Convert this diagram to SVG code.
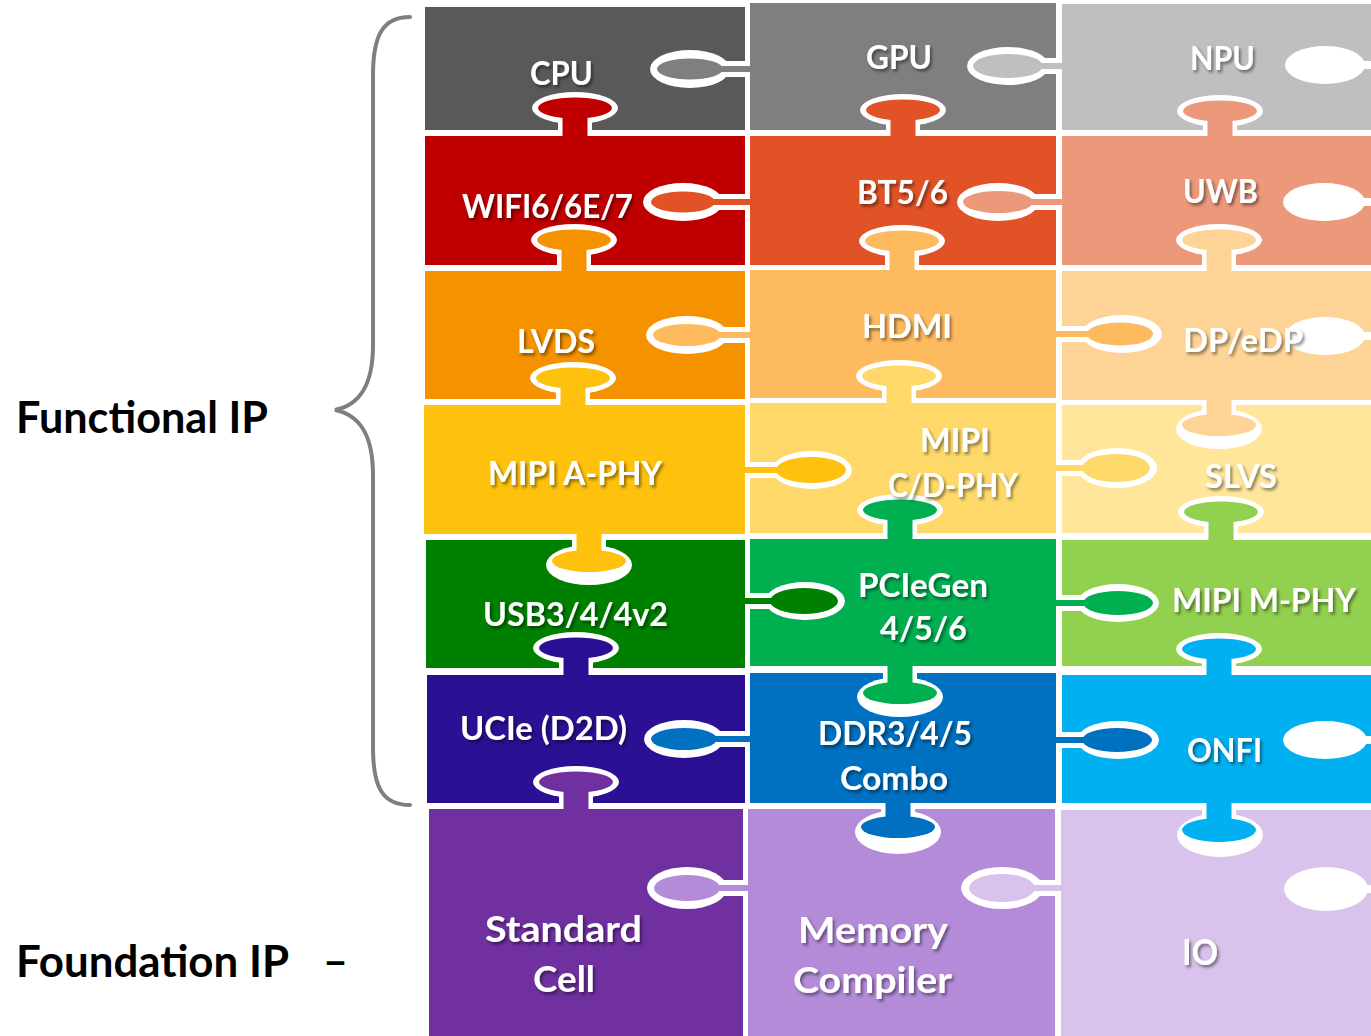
<svg xmlns="http://www.w3.org/2000/svg" width="1371" height="1036" viewBox="0 0 1371 1036">
<defs>
<filter id="sh" x="-10%" y="-30%" width="130%" height="160%">
<feDropShadow dx="2" dy="2.5" stdDeviation="1.5" flood-color="#000" flood-opacity="0.45"/>
</filter>
<style>
.w{fill:#fff}
.lbl{font-family:Lato,"Open Sans","Liberation Sans",sans-serif;font-weight:700;font-size:32px;fill:#fff;filter:url(#sh)}
.big{font-size:37px}
.ttl{font-family:Lato,"Open Sans","Liberation Sans",sans-serif;font-weight:700;font-size:43px;fill:#000}
.brace{fill:none;stroke:#7f7f7f;stroke-width:4;stroke-linecap:round}
</style>
</defs>
<rect width="1371" height="1036" fill="#fff"/>

<g id="labels-side">
<text class="ttl" x="16" y="433" textLength="252" lengthAdjust="spacingAndGlyphs">Functional IP</text>
<text class="ttl" x="16" y="977" textLength="273" lengthAdjust="spacingAndGlyphs">Foundation IP</text>
<text class="ttl" x="323" y="976" textLength="25" lengthAdjust="spacingAndGlyphs">–</text>
<path class="brace" d="M410,17 C383,17 373,35 373,75 L373,345 C373,385 360,405 335,410 C360,415 373,435 373,475 L373,748 C373,788 383,805 410,805"/>
</g>

<g id="nodes">
<g id="cpu"><rect x="425" y="7" width="320" height="123" fill="#595959"/><text class="lbl" x="530" y="85" textLength="63" lengthAdjust="spacingAndGlyphs">CPU</text></g>
<g id="gpu"><rect x="750" y="3" width="306" height="127" fill="#7f7f7f"/><text class="lbl" x="866" y="69" textLength="66" lengthAdjust="spacingAndGlyphs">GPU</text></g>
<g id="npu"><rect x="1062" y="4" width="309" height="126" fill="#bfbfbf"/><text class="lbl" x="1190" y="70" textLength="65" lengthAdjust="spacingAndGlyphs">NPU</text></g>

<g id="wifi"><rect x="425" y="136" width="320" height="129" fill="#c00000"/><text class="lbl" x="462" y="218" textLength="171" lengthAdjust="spacingAndGlyphs">WIFI6/6E/7</text></g>
<g id="bt"><rect x="750" y="136" width="306" height="129" fill="#e15327"/><text class="lbl" x="857" y="204" textLength="91" lengthAdjust="spacingAndGlyphs">BT5/6</text></g>
<g id="uwb"><rect x="1062" y="136" width="309" height="129" fill="#ec987b"/><text class="lbl" x="1183" y="203" textLength="75" lengthAdjust="spacingAndGlyphs">UWB</text></g>

<g id="lvds"><rect x="425" y="271" width="320" height="128" fill="#f59200"/><text class="lbl" x="517" y="353" textLength="78" lengthAdjust="spacingAndGlyphs">LVDS</text></g>
<g id="hdmi"><rect x="750" y="270" width="306" height="128" fill="#feba5f"/><text class="lbl" x="862" y="338" textLength="90" lengthAdjust="spacingAndGlyphs">HDMI</text></g>
<g id="dp"><rect x="1062" y="271" width="309" height="129" fill="#fed496"/></g>

<g id="mipi-a"><rect x="424" y="405" width="321" height="129" fill="#fec10d"/><text class="lbl" x="488" y="485" textLength="174" lengthAdjust="spacingAndGlyphs">MIPI A-PHY</text></g>
<g id="mipi-cd"><rect x="750" y="403" width="306" height="130" fill="#fed96a"/></g>
<g id="slvs"><rect x="1062" y="405" width="309" height="128" fill="#ffe69b"/><text class="lbl" x="1205" y="488" textLength="72" lengthAdjust="spacingAndGlyphs">SLVS</text></g>

<g id="usb"><rect x="426" y="540" width="319" height="128" fill="#008000"/></g>
<g id="pcie"><rect x="750" y="539" width="306" height="127" fill="#00b050"/><text class="lbl" x="858" y="597" textLength="130" lengthAdjust="spacingAndGlyphs">PCIeGen</text><text class="lbl" x="880" y="640" textLength="87" lengthAdjust="spacingAndGlyphs">4/5/6</text></g>
<g id="mipi-m"><rect x="1062" y="540" width="309" height="126" fill="#92d050"/><text class="lbl" x="1172" y="612" textLength="184" lengthAdjust="spacingAndGlyphs">MIPI M-PHY</text></g>

<g id="ucie"><rect x="427" y="675" width="318" height="128" fill="#2b1094"/><text class="lbl" x="460" y="740" textLength="167" lengthAdjust="spacingAndGlyphs">UCIe (D2D)</text></g>
<g id="ddr"><rect x="750" y="673" width="306" height="130" fill="#0070c0"/><text class="lbl" x="818" y="745" textLength="154" lengthAdjust="spacingAndGlyphs">DDR3/4/5</text><text class="lbl" x="840" y="790" textLength="108" lengthAdjust="spacingAndGlyphs">Combo</text></g>
<g id="onfi"><rect x="1062" y="675" width="309" height="128" fill="#00b0f0"/><text class="lbl" x="1187" y="762" textLength="75" lengthAdjust="spacingAndGlyphs">ONFI</text></g>

<g id="standard-cell"><rect x="429" y="809" width="314" height="227" fill="#7030a0"/><text class="lbl big" x="485" y="942" textLength="157" lengthAdjust="spacingAndGlyphs">Standard</text><text class="lbl big" x="533" y="992" textLength="62" lengthAdjust="spacingAndGlyphs">Cell</text></g>
<g id="memory-compiler"><rect x="748" y="809" width="307" height="227" fill="#b48bd9"/><text class="lbl big" x="798" y="943" textLength="150" lengthAdjust="spacingAndGlyphs">Memory</text><text class="lbl big" x="793" y="993" textLength="159" lengthAdjust="spacingAndGlyphs">Compiler</text></g>
<g id="io"><rect x="1061" y="810" width="310" height="226" fill="#d9c2eb"/><text class="lbl big" x="1182" y="965" textLength="36" lengthAdjust="spacingAndGlyphs">IO</text></g>
</g>

<g id="connectors">
<!-- vertical, pointing up -->
<g><ellipse class="w" cx="575" cy="108" rx="43" ry="16"/><rect class="w" x="558" y="108" width="34" height="22"/><ellipse cx="575" cy="108" rx="37" ry="10.5" fill="#c00000"/><rect x="562.5" y="108" width="25" height="31" fill="#c00000"/></g>
<g><ellipse class="w" cx="574" cy="240" rx="43" ry="16"/><rect class="w" x="557" y="240" width="34" height="25"/><ellipse cx="574" cy="240" rx="37" ry="10.5" fill="#f59200"/><rect x="561.5" y="240" width="25" height="34" fill="#f59200"/></g>
<g><ellipse class="w" cx="573" cy="378" rx="43" ry="16"/><rect class="w" x="556" y="378" width="34" height="21"/><ellipse cx="573" cy="378" rx="37" ry="10.5" fill="#fec10d"/><rect x="560.5" y="378" width="25" height="30" fill="#fec10d"/></g>
<g><ellipse class="w" cx="576" cy="648" rx="43" ry="16"/><rect class="w" x="559" y="648" width="34" height="20"/><ellipse cx="576" cy="648" rx="37" ry="10.5" fill="#2b1094"/><rect x="563.5" y="648" width="25" height="30" fill="#2b1094"/></g>
<g><ellipse class="w" cx="576" cy="782" rx="43" ry="16"/><rect class="w" x="559" y="782" width="34" height="21"/><ellipse cx="576" cy="782" rx="37" ry="10.5" fill="#7030a0"/><rect x="563.5" y="782" width="25" height="30" fill="#7030a0"/></g>
<g><ellipse class="w" cx="903" cy="110" rx="43" ry="16"/><rect class="w" x="886" y="110" width="34" height="20"/><ellipse cx="903" cy="110" rx="37" ry="10.5" fill="#e15327"/><rect x="890.5" y="110" width="25" height="29" fill="#e15327"/></g>
<g><ellipse class="w" cx="902" cy="241" rx="43" ry="16"/><rect class="w" x="885" y="241" width="34" height="24"/><ellipse cx="902" cy="241" rx="37" ry="10.5" fill="#feba5f"/><rect x="889.5" y="241" width="25" height="32" fill="#feba5f"/></g>
<g><ellipse class="w" cx="899" cy="376" rx="43" ry="16"/><rect class="w" x="882" y="376" width="34" height="22"/><ellipse cx="899" cy="376" rx="37" ry="10.5" fill="#fed96a"/><rect x="886.5" y="376" width="25" height="30" fill="#fed96a"/></g>
<g><ellipse class="w" cx="900" cy="510" rx="43" ry="16"/><rect class="w" x="883" y="510" width="34" height="23"/><ellipse cx="900" cy="510" rx="37" ry="10.5" fill="#00b050"/><rect x="887.5" y="510" width="25" height="32" fill="#00b050"/></g>
<g><ellipse class="w" cx="1220" cy="111" rx="43" ry="16"/><rect class="w" x="1203" y="111" width="34" height="19"/><ellipse cx="1220" cy="111" rx="37" ry="10.5" fill="#ec987b"/><rect x="1207.5" y="111" width="25" height="28" fill="#ec987b"/></g>
<g><ellipse class="w" cx="1219" cy="240" rx="43" ry="16"/><rect class="w" x="1202" y="240" width="34" height="25"/><ellipse cx="1219" cy="240" rx="37" ry="10.5" fill="#fed496"/><rect x="1206.5" y="240" width="25" height="34" fill="#fed496"/></g>
<g><ellipse class="w" cx="1221" cy="512" rx="43" ry="16"/><rect class="w" x="1204" y="512" width="34" height="21"/><ellipse cx="1221" cy="512" rx="37" ry="10.5" fill="#92d050"/><rect x="1208.5" y="512" width="25" height="31" fill="#92d050"/></g>
<g><ellipse class="w" cx="1219" cy="649" rx="43" ry="16"/><rect class="w" x="1202" y="649" width="34" height="17"/><ellipse cx="1219" cy="649" rx="37" ry="10.5" fill="#00b0f0"/><rect x="1206.5" y="649" width="25" height="29" fill="#00b0f0"/></g>
<!-- vertical, pointing down -->
<g><ellipse class="w" cx="589" cy="565" rx="43" ry="20"/><rect class="w" x="572" y="540" width="34" height="21"/><ellipse cx="589" cy="561" rx="37" ry="11" fill="#fec10d"/><rect x="576.5" y="531" width="25" height="30" fill="#fec10d"/></g>
<g><ellipse class="w" cx="900" cy="697" rx="43" ry="20"/><rect class="w" x="883" y="673" width="34" height="20"/><ellipse cx="900" cy="693" rx="37" ry="11" fill="#00b050"/><rect x="887.5" y="663" width="25" height="30" fill="#00b050"/></g>
<g><ellipse class="w" cx="898" cy="832" rx="43" ry="22"/><rect class="w" x="881" y="809" width="34" height="18"/><ellipse cx="898" cy="827" rx="37" ry="11" fill="#0070c0"/><rect x="885.5" y="800" width="25" height="27" fill="#0070c0"/></g>
<g><ellipse class="w" cx="1219" cy="429" rx="43" ry="20"/><rect class="w" x="1202" y="405" width="34" height="20"/><ellipse cx="1219" cy="425" rx="37" ry="11" fill="#fed496"/><rect x="1206.5" y="397" width="25" height="28" fill="#fed496"/></g>
<g><ellipse class="w" cx="1220" cy="835" rx="43" ry="22"/><rect class="w" x="1202" y="810" width="34" height="20"/><ellipse cx="1219" cy="830" rx="37" ry="12" fill="#00b0f0"/><rect x="1206.5" y="800" width="25" height="30" fill="#00b0f0"/></g>
<!-- horizontal, pointing left (owner on right) -->
<g><ellipse class="w" cx="690" cy="69" rx="40" ry="19"/><rect class="w" x="690" y="61" width="55" height="16"/><ellipse cx="690" cy="69" rx="33" ry="10.5" fill="#7f7f7f"/><rect x="690" y="66" width="63" height="6" fill="#7f7f7f"/></g>
<g><ellipse class="w" cx="1008" cy="66" rx="41" ry="19"/><rect class="w" x="1008" y="58" width="48" height="16"/><ellipse cx="1008" cy="66" rx="35" ry="12" fill="#bfbfbf"/><rect x="1008" y="63" width="57" height="6" fill="#bfbfbf"/></g>
<g><ellipse class="w" cx="683" cy="202" rx="40" ry="19"/><rect class="w" x="683" y="194" width="62" height="16"/><ellipse cx="683" cy="202" rx="32" ry="10.5" fill="#e15327"/><rect x="683" y="199" width="70" height="6" fill="#e15327"/></g>
<g><ellipse class="w" cx="998" cy="202" rx="41" ry="19"/><rect class="w" x="998" y="194" width="58" height="16"/><ellipse cx="998" cy="202" rx="35" ry="11" fill="#ec987b"/><rect x="998" y="199" width="67" height="6" fill="#ec987b"/></g>
<g><ellipse class="w" cx="687" cy="335" rx="41" ry="19"/><rect class="w" x="687" y="327" width="58" height="16"/><ellipse cx="687" cy="335" rx="34" ry="11" fill="#feba5f"/><rect x="687" y="332" width="66" height="6" fill="#feba5f"/></g>
<g><ellipse class="w" cx="684" cy="739" rx="40" ry="19"/><rect class="w" x="684" y="731" width="61" height="16"/><ellipse cx="684" cy="739" rx="33" ry="11" fill="#0070c0"/><rect x="684" y="736" width="69" height="6" fill="#0070c0"/></g>
<g><ellipse class="w" cx="687" cy="888" rx="40" ry="21"/><rect class="w" x="687" y="880" width="56" height="16"/><ellipse cx="687" cy="888" rx="33" ry="13" fill="#b48bd9"/><rect x="687" y="885" width="64" height="6" fill="#b48bd9"/></g>
<g><ellipse class="w" cx="1002" cy="888" rx="41" ry="21"/><rect class="w" x="1002" y="880" width="53" height="16"/><ellipse cx="1002" cy="888" rx="33" ry="14" fill="#d9c2eb"/><rect x="1002" y="885" width="62" height="6" fill="#d9c2eb"/></g>
<!-- horizontal, pointing right (owner on left) -->
<g><ellipse class="w" cx="1122" cy="334" rx="40" ry="19"/><rect class="w" x="1062" y="326" width="60" height="16"/><ellipse cx="1120" cy="334" rx="33" ry="11.5" fill="#feba5f"/><rect x="1053" y="331" width="67" height="6" fill="#feba5f"/></g>
<g><ellipse class="w" cx="812" cy="470" rx="40" ry="19"/><rect class="w" x="750" y="462" width="62" height="16"/><ellipse cx="811" cy="470" rx="35" ry="13" fill="#fec10d"/><rect x="742" y="467" width="69" height="6" fill="#fec10d"/></g>
<g><ellipse class="w" cx="1117" cy="468" rx="40" ry="20"/><rect class="w" x="1062" y="460" width="55" height="16"/><ellipse cx="1116" cy="468" rx="34" ry="14" fill="#fed96a"/><rect x="1053" y="465" width="63" height="6" fill="#fed96a"/></g>
<g><ellipse class="w" cx="805" cy="601" rx="40" ry="19"/><rect class="w" x="750" y="593" width="55" height="16"/><ellipse cx="804" cy="601" rx="34" ry="13" fill="#008000"/><rect x="742" y="598" width="62" height="6" fill="#008000"/></g>
<g><ellipse class="w" cx="1118" cy="603" rx="41" ry="19"/><rect class="w" x="1062" y="595" width="56" height="16"/><ellipse cx="1118" cy="603" rx="35" ry="12" fill="#00b050"/><rect x="1053" y="600" width="65" height="6" fill="#00b050"/></g>
<g><ellipse class="w" cx="1118" cy="740" rx="41" ry="19"/><rect class="w" x="1062" y="732" width="56" height="16"/><ellipse cx="1117" cy="740" rx="35" ry="12" fill="#0070c0"/><rect x="1053" y="737" width="64" height="6" fill="#0070c0"/></g>
<!-- tabs of pieces beyond the right edge -->
<g class="w"><ellipse cx="1325" cy="65" rx="40" ry="19"/><rect x="1325" y="61" width="46" height="8"/></g>
<g class="w"><ellipse cx="1324" cy="202" rx="41" ry="19"/><rect x="1324" y="198" width="47" height="8"/></g>
<g class="w"><ellipse cx="1325" cy="336" rx="40" ry="19"/><rect x="1325" y="332" width="46" height="8"/></g>
<g class="w"><ellipse cx="1325" cy="740" rx="42" ry="19"/><rect x="1325" y="736" width="46" height="8"/></g>
<g class="w"><ellipse cx="1326" cy="889" rx="42" ry="22"/><rect x="1326" y="885" width="45" height="8"/></g>
</g>

<g id="labels-over-tabs">
<text class="lbl" x="1183" y="352" textLength="120" lengthAdjust="spacingAndGlyphs">DP/eDP</text>
<text class="lbl" x="920" y="452" textLength="70" lengthAdjust="spacingAndGlyphs">MIPI</text>
<text class="lbl" x="888" y="497" textLength="130" lengthAdjust="spacingAndGlyphs">C/D-PHY</text>
<text class="lbl" x="483" y="626" textLength="185" lengthAdjust="spacingAndGlyphs">USB3/4/4v2</text>
</g>
</svg>
